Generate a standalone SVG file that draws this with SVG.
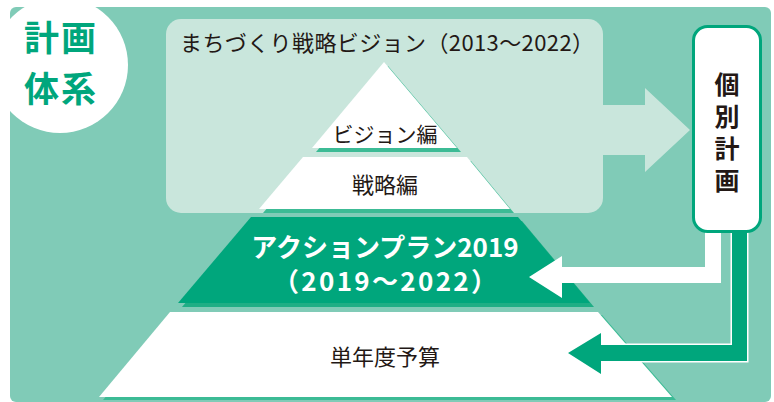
<svg xmlns="http://www.w3.org/2000/svg" width="774" height="402" viewBox="0 0 774 402">
<style>
text{font-family:"Noto Sans CJK JP","Noto Sans",sans-serif;}
.dark{fill:#231815;}
.shadow{fill:#3cbb95;}
.shadow2{fill:#1fae85;}
.white{fill:#ffffff;}
.green{fill:#00a67c;}
.light{fill:#c9e6dc;}
.vert{writing-mode:vertical-rl;text-orientation:upright;}
</style>
<rect x="10" y="7" width="761" height="395" rx="6" fill="#80cbb7"/>
<g id="title-badge">
<circle cx="60" cy="65" r="68" fill="#ffffff"/>
<text x="61" y="51" font-size="35" font-weight="700" text-anchor="middle" letter-spacing="2" class="green">計画</text>
<text x="61" y="102" font-size="35" font-weight="700" text-anchor="middle" letter-spacing="2" class="green">体系</text>
</g>
<g id="vision-frame">
<rect x="166" y="19" width="437" height="194" rx="15" class="light"/>
<text x="180" y="51" font-size="22" class="dark" textLength="414" lengthAdjust="spacing">まちづくり戦略ビジョン（2013～2022）</text>
</g>
<g id="pyramid-vision">
<polygon points="388,66 461,152 316,152" class="shadow"/>
<polygon points="384,62 457,148 312,148" class="white"/>
<text x="385" y="142" font-size="21" text-anchor="middle" class="dark">ビジョン編</text>
</g>
<g id="pyramid-strategy">
<polygon points="307,161 471,161 514,213 263,213" class="shadow"/>
<polygon points="303,157 467,157 510,209 259,209" class="white"/>
<text x="385" y="193" font-size="22" text-anchor="middle" class="dark">戦略編</text>
</g>
<g id="pyramid-action">
<polygon points="255,221 522,221 594,307 182,307" class="shadow2"/>
<polygon points="251,217 518,217 590,303 178,303" class="green"/>
<text x="385" y="257" font-size="26" font-weight="700" text-anchor="middle" class="white">アクションプラン2019</text>
<text x="385" y="291" font-size="26" font-weight="700" text-anchor="middle" class="white" textLength="224" lengthAdjust="spacing">（2019～2022）</text>
</g>
<g id="pyramid-budget">
<polygon points="174,315 602,315 676,400 103,400" class="shadow"/>
<polygon points="170,312 598,312 672,397 99,397" class="white"/>
<text x="385" y="365" font-size="22" text-anchor="middle" class="dark">単年度予算</text>
</g>
<g id="connectors">
<path d="M595,105 H645 V88 L690,130 L645,172 V155 H595 Z" class="light"/>
<path d="M705,228 V267 H562 V256 L529,277 L562,298 V283 H721 V228 Z" class="white"/>
<path d="M732,228 V345 H601 V333 L568,353 L601,374 V361 H747 V228 Z" class="green" stroke="#ffffff" stroke-width="3" paint-order="stroke"/>
</g>
<g id="individual-plan">
<rect x="693.5" y="26.5" width="67" height="205" rx="14" fill="#ffffff" stroke="#00a67c" stroke-width="3"/>
<text x="727" y="72" font-size="25" font-weight="700" letter-spacing="7" class="dark vert">個別計画</text>
</g>
</svg>
